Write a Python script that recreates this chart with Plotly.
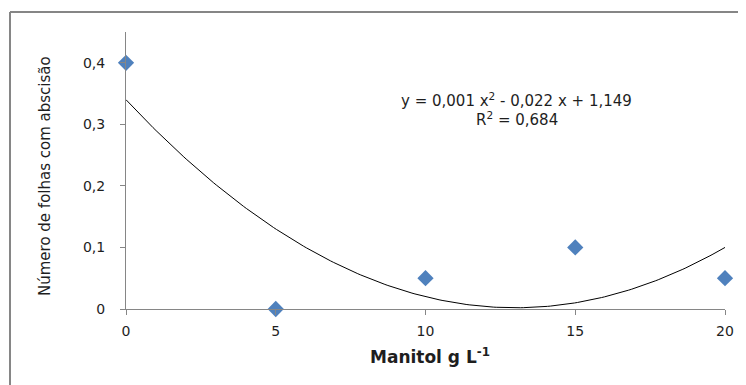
import numpy as np
import plotly.graph_objects as go

# Data
manitol = [0, 5, 10, 15, 20]
folhas = [0.4, 0.0, 0.05, 0.1, 0.05]
x_ticks = [0, 5, 10, 15, 20]
y_ticks = [0, 0.1, 0.2, 0.3, 0.4]
y_tick_labels = ["0", "0,1", "0,2", "0,3", "0,4"]
equation_text = "y = 0,001 x<sup>2</sup> - 0,022 x + 1,149"
r2_text = "R<sup>2</sup> = 0,684"
x_title = "<b>Manitol g L<sup>-1</sup></b>"
y_title = "Número de folhas com abscisão"

# Polynomial trendline (order 2) fitted to the data
coef = np.polyfit(manitol, folhas, 2)
xs = np.linspace(min(manitol), max(manitol), 200)
ys = np.polyval(coef, xs)

FONT = "DejaVu Sans"
GRAY = "#868686"
TXT = "#1e1e1e"

# page is offset by the 8px body margin; plot area spans page x 126..725, y 32..309
PX0, PX1, PY0, PY1 = 126, 725, 32, 309
def px(X):
    return (X - PX0) / (PX1 - PX0)
def py(Y):
    return (PY1 - Y) / (PY1 - PY0)

fig = go.Figure()
fig.add_trace(go.Scatter(x=xs, y=ys, mode="lines",
                         line=dict(color="#000000", width=1),
                         hoverinfo="skip", showlegend=False))
fig.add_trace(go.Scatter(x=manitol, y=folhas, mode="markers",
                         marker=dict(symbol="diamond", size=12.5, color="#4F81BD",
                                     line=dict(width=0)),
                         showlegend=False, cliponaxis=False))

fig.update_layout(
    width=738, height=377,
    margin=dict(l=118, r=21, t=24, b=76, pad=0),
    paper_bgcolor="white", plot_bgcolor="white",
    font=dict(family=FONT, size=13, color=TXT),
    xaxis=dict(range=[0, 20], tickvals=x_ticks, ticktext=[str(v) for v in x_ticks],
               showgrid=False, zeroline=False, showline=True, linecolor=GRAY, linewidth=1,
               ticks="outside", ticklen=5, tickcolor=GRAY, tickfont=dict(size=14, color=TXT),
               ticklabelstandoff=4),
    yaxis=dict(range=[0, 0.45], tickvals=y_ticks, ticktext=y_tick_labels,
               showgrid=False, zeroline=False, showline=True, linecolor=GRAY, linewidth=1,
               ticks="outside", ticklen=5, tickcolor=GRAY, tickfont=dict(size=14, color=TXT),
               ticklabelstandoff=12),
    shapes=[
        dict(type="line", xref="paper", yref="paper",
             x0=px(10), x1=px(760), y0=py(12), y1=py(12),
             line=dict(color=GRAY, width=2)),
        dict(type="line", xref="paper", yref="paper",
             x0=px(10), x1=px(10), y0=py(12), y1=py(400),
             line=dict(color=GRAY, width=2)),
    ],
    annotations=[
        dict(text=equation_text, xref="paper", yref="paper",
             x=px(517), y=py(100), showarrow=False,
             xanchor="center", yanchor="middle", font=dict(size=15, family=FONT, color=TXT)),
        dict(text=r2_text, xref="paper", yref="paper",
             x=px(517), y=py(119), showarrow=False,
             xanchor="center", yanchor="middle", font=dict(size=15, family=FONT, color=TXT)),
        dict(text=x_title, xref="paper", yref="paper",
             x=px(430), y=py(356), showarrow=False,
             xanchor="center", yanchor="middle", font=dict(size=17, family=FONT, color=TXT)),
        dict(text=y_title, xref="paper", yref="paper",
             x=px(45), y=py(176), showarrow=False, textangle=-90,
             xanchor="center", yanchor="middle", font=dict(size=15, family=FONT, color=TXT)),
    ],
)

fig.write_html("out.html")
